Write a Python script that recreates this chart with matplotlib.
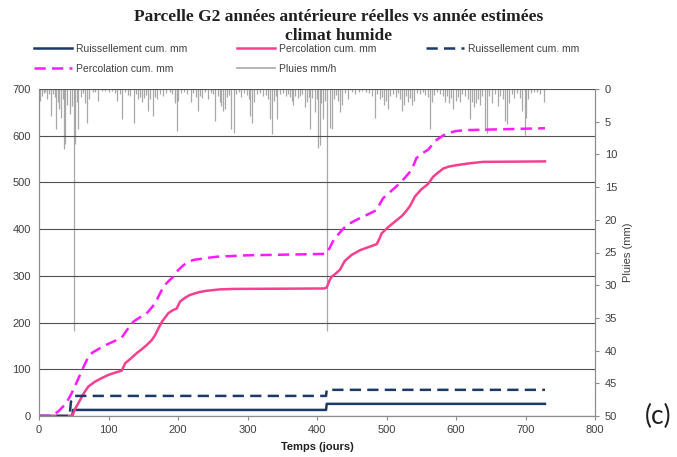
import matplotlib.pyplot as plt

# Percolation cumulée, années réelles (trait plein rose)
perco_reel_jours = [0, 48, 52, 59, 65, 71, 80, 90, 100, 110,
                    119, 124, 132, 141, 148, 155, 162, 167, 172, 177,
                    186, 192, 198, 203, 210, 217, 230, 241, 260, 280,
                    410, 414, 418, 421, 427, 433, 440, 450, 462, 475,
                    486, 490, 493, 498, 503, 512, 522, 528, 534, 541,
                    550, 560, 567, 575, 582, 590, 601, 620, 639, 728]
perco_reel_mm = [0, 0, 15, 34, 50, 63, 73, 81, 88, 93,
                 97, 113, 123, 135, 143, 152, 162, 173, 188, 202,
                 220, 226, 230, 245, 253, 259, 265, 268, 271, 272,
                 273, 275, 290, 298, 305, 313, 332, 345, 355, 362,
                 368, 380, 391, 398, 405, 416, 428, 438, 450, 470,
                 485, 497, 512, 522, 530, 534, 537, 541, 544, 545]

# Percolation cumulée, année estimée (tirets magenta)
perco_est_jours = [0, 18, 28, 37, 42, 47, 53, 59, 65, 71,
                   77, 83, 92, 102, 111, 119, 127, 136, 145, 155,
                   161, 167, 173, 179, 186, 193, 200, 208, 215, 222,
                   240, 256, 300, 376, 410, 414, 419, 424, 433, 443,
                   457, 471, 486, 490, 495, 507, 519, 527, 534, 539,
                   543, 551, 560, 566, 572, 580, 587, 600, 615, 728]
perco_est_mm = [0, 0, 10, 24, 35, 49, 68, 88, 108, 127,
                136, 141, 149, 156, 162, 168, 185, 202, 211, 220,
                230, 241, 259, 277, 288, 298, 312, 323, 330, 334,
                338, 341, 344, 346, 347, 348, 362, 377, 393, 409,
                420, 430, 441, 453, 466, 482, 498, 511, 523, 537,
                552, 562, 570, 581, 591, 599, 605, 610, 612, 616]

# Ruissellement cumulé
ruis_reel_jours = [0, 48, 49, 413, 414, 728]
ruis_reel_mm = [0, 0, 13, 13, 26, 26]
ruis_est_jours = [0, 44, 46, 50, 52, 413, 414, 728]
ruis_est_mm = [0, 0, 31, 35, 43, 43, 56, 56]

# Pluies (mm/h)
pluie_jours = [1, 4, 7, 9, 12, 14, 17, 20, 23, 25,
               27, 29, 32, 34, 36, 38, 41, 44, 47, 50,
               52, 54, 56, 60, 63, 66, 69, 72, 77, 81,
               85, 90, 95, 100, 105, 109, 112, 116, 119, 124,
               128, 131, 136, 139, 142, 145, 148, 151, 154, 157,
               160, 164, 167, 170, 174, 178, 183, 188, 192, 195,
               196, 198, 200, 204, 209, 213, 218, 222, 226, 229,
               232, 235, 239, 243, 247, 250, 253, 257, 260, 262,
               265, 267, 270, 273, 276, 280, 284, 288, 291, 295,
               299, 302, 304, 307, 310, 314, 318, 322, 326, 329,
               332, 335, 338, 341, 343, 347, 351, 355, 358, 361,
               364, 366, 369, 372, 376, 379, 383, 385, 388, 390,
               393, 397, 400, 402, 404, 406, 408, 411, 414, 418,
               421, 424, 427, 430, 433, 436, 440, 445, 450, 455,
               460, 465, 470, 475, 479, 483, 487, 490, 493, 496,
               499, 502, 505, 509, 513, 517, 520, 522, 525, 528,
               531, 534, 537, 540, 544, 548, 552, 556, 560, 563,
               566, 569, 573, 577, 581, 584, 587, 590, 593, 596,
               600, 603, 606, 609, 613, 617, 620, 623, 626, 629,
               632, 635, 638, 642, 645, 648, 652, 656, 660, 664,
               667, 670, 673, 676, 680, 684, 688, 692, 695, 699,
               701, 704, 708, 712, 717, 721, 726]
pluie_mm = [1.8, 1.0, 0.6, 0.4, 1.5, 0.8, 4.1, 0.7, 1.2, 6.1,
            2.0, 3.1, 4.4, 1.5, 9.2, 8.4, 2.5, 3.8, 2.6, 37.0,
            8.4, 2.0, 6.1, 1.2, 0.6, 2.1, 5.2, 1.5, 0.4, 0.5,
            1.8, 0.3, 0.3, 0.4, 0.3, 0.6, 1.9, 0.8, 4.6, 0.5,
            0.9, 1.0, 5.2, 0.8, 1.6, 1.2, 2.0, 1.4, 0.9, 3.3,
            1.5, 4.1, 1.2, 1.6, 0.8, 1.0, 0.6, 0.4, 0.7, 1.8,
            2.2, 6.4, 1.8, 0.6, 0.4, 0.8, 2.0, 0.6, 1.2, 3.3,
            1.0, 1.4, 0.5, 1.5, 0.6, 0.8, 4.9, 1.0, 2.0, 2.6,
            3.3, 3.0, 1.2, 0.9, 6.1, 6.7, 0.8, 0.5, 1.2, 0.6,
            0.9, 1.6, 4.1, 5.2, 2.0, 0.7, 0.6, 1.1, 0.9, 1.5,
            4.6, 6.9, 1.8, 1.0, 4.6, 0.8, 0.6, 1.0, 0.7, 1.2,
            1.8, 2.4, 1.0, 1.4, 1.1, 0.8, 2.8, 2.0, 1.2, 6.1,
            1.4, 3.5, 1.6, 9.0, 8.5, 2.2, 4.6, 1.8, 37.0, 6.0,
            6.1, 1.6, 0.9, 1.8, 3.5, 2.4, 0.6, 1.5, 0.4, 0.8,
            0.5, 0.3, 0.4, 0.6, 1.0, 4.4, 0.8, 1.6, 1.2, 2.4,
            1.8, 3.0, 1.0, 0.8, 1.2, 0.6, 1.6, 3.3, 2.4, 1.0,
            2.0, 1.4, 2.4, 1.8, 0.6, 0.8, 0.5, 0.9, 1.2, 6.1,
            2.0, 0.9, 0.5, 0.7, 1.0, 2.0, 1.0, 2.2, 1.4, 3.1,
            1.8, 1.2, 2.0, 0.8, 1.0, 1.6, 4.6, 2.0, 2.8, 2.2,
            1.6, 2.4, 1.0, 6.4, 6.7, 1.0, 2.2, 0.8, 2.6, 1.0,
            1.6, 4.9, 5.3, 2.2, 0.8, 1.4, 0.6, 1.3, 3.3, 7.1,
            4.4, 1.5, 0.6, 0.4, 0.5, 0.8, 2.0]

titre = "Parcelle G2 années antérieure réelles vs année estimées\nclimat humide"

bleu = '#1b3a66'
rose = '#f5408f'
magenta = '#ff1aff'
gris = '#a8a8a8'
texte = '#404040'

plt.rcParams['font.family'] = ['Liberation Sans', 'DejaVu Sans']

fig = plt.figure(figsize=(6.77, 4.57), dpi=100)
ax = fig.add_axes([39/677, 41/457, 556/677, 327/457])
ax2 = ax.twinx()

# pluies sur l'axe secondaire (inversé)
ax2.vlines(pluie_jours, 0, pluie_mm, color=gris, lw=0.9)
ax2.set_ylim(50, 0)
ax2.set_yticks(range(0, 51, 5))
ax2.set_ylabel("Pluies (mm)", fontsize=8, color=texte, labelpad=4)

l1, = ax.plot(ruis_reel_jours, ruis_reel_mm, color=bleu, lw=1.8)
l2, = ax.plot(perco_reel_jours, perco_reel_mm, color=rose, lw=1.8)
l3, = ax.plot(ruis_est_jours, ruis_est_mm, color=bleu, lw=1.8, dashes=(4.5, 2.5))
l4, = ax.plot(perco_est_jours, perco_est_mm, color=magenta, lw=1.8, dashes=(4.5, 2.5))
l5, = ax.plot([], [], color=gris, lw=1.2)
ax.set_zorder(ax2.get_zorder() + 1)
ax.patch.set_visible(False)

ax.set_xlim(0, 800)
ax.set_ylim(0, 700)
ax.set_xticks(range(0, 801, 100))
ax.set_yticks(range(0, 701, 100))
ax.yaxis.grid(True, color='#505050', lw=0.8)
ax.set_axisbelow(True)
ax.set_xlabel("Temps (jours)", fontsize=8, fontweight='bold', color='#202020', labelpad=5)

for a in (ax, ax2):
    a.tick_params(labelsize=8, colors=texte, length=3, width=0.8)
    for s in a.spines.values():
        s.set_color('#8c8c8c')
    a.spines['top'].set_visible(False)
ax.tick_params(axis='y', length=0, pad=6)
ax.tick_params(axis='x', color='#8c8c8c')
ax2.tick_params(axis='y', color='#8c8c8c', pad=4)

fig.text(0.5, 0.98, titre, ha='center', va='top', fontsize=12.5, fontweight='bold',
         family='Liberation Serif', linespacing=1.2, color='#202020')

lab = "Ruissellement cum. mm"
lab2 = "Percolation cum. mm"
handles = [l1, l4, l2, l5, l3]
labels = [lab, lab2, lab2, "Pluies mm/h", lab]
fig.legend(handles, labels, ncol=3, loc='upper left', bbox_to_anchor=(0.037, 0.925),
           frameon=False, fontsize=7.5, handlelength=3.6, handletextpad=0.4,
           columnspacing=4.8, labelspacing=1.0, labelcolor=texte)

fig.text(0.952, 0.062, "(c)", fontsize=19, family='Lato', color='#202020', va='bottom')

fig.savefig("out.png", dpi=100)
